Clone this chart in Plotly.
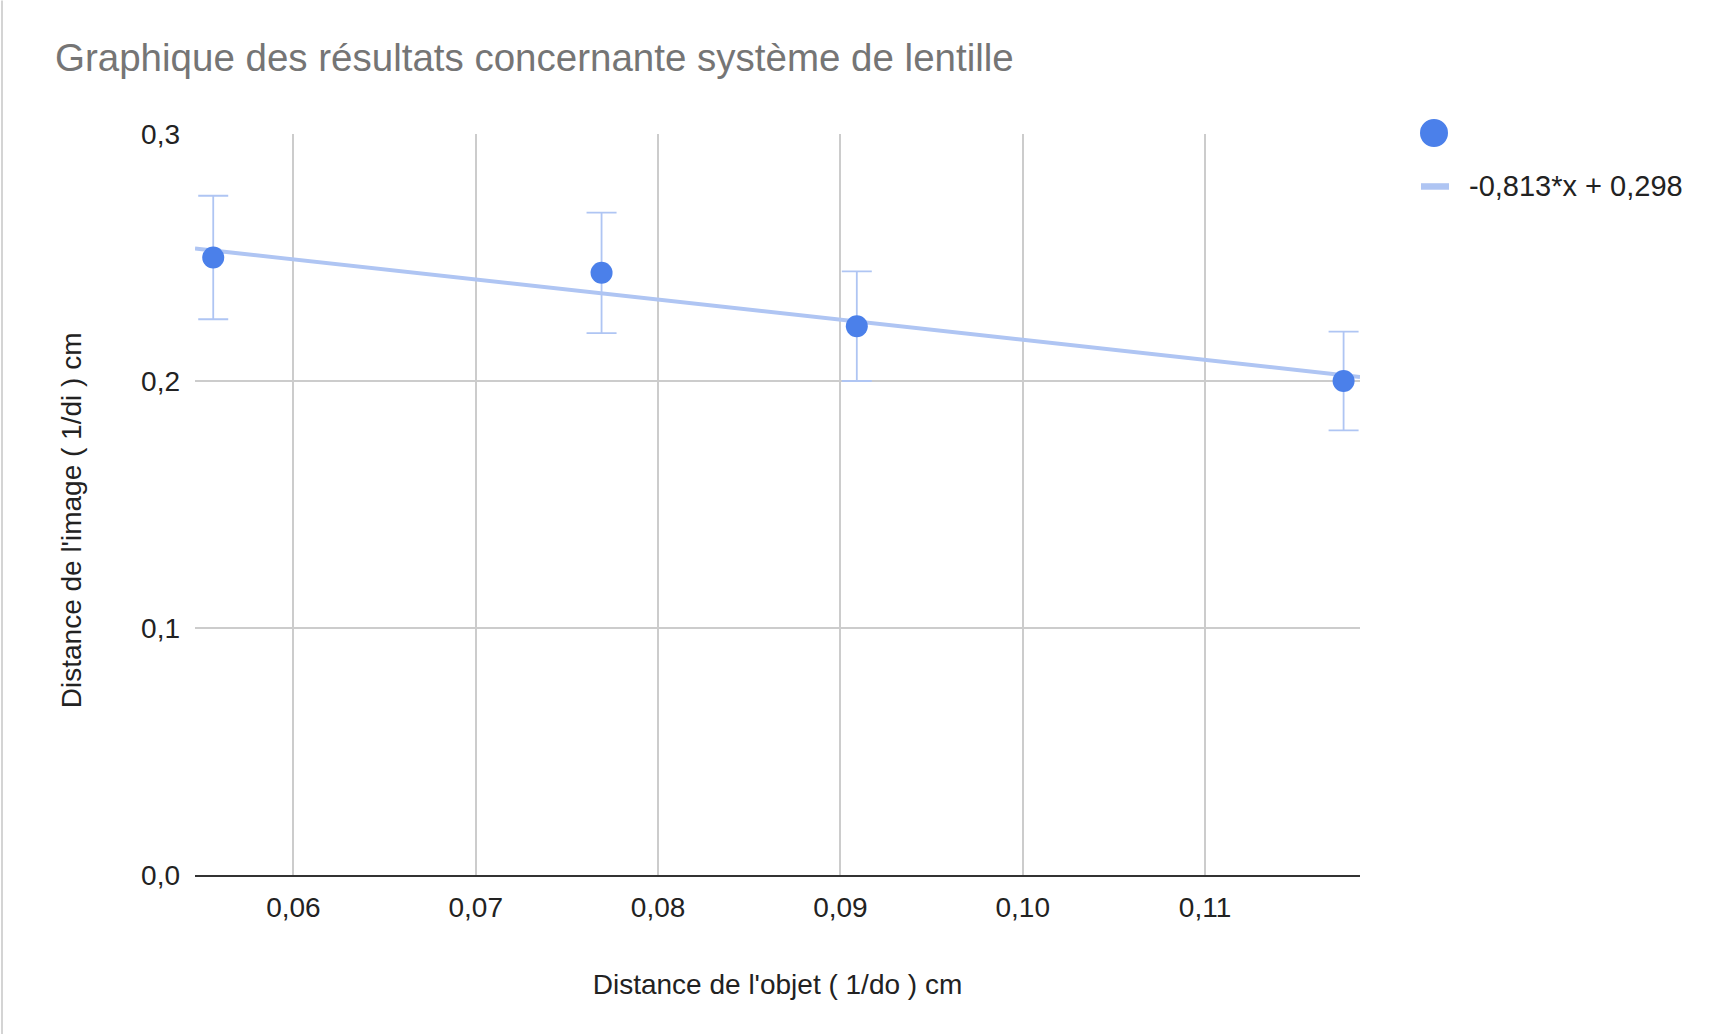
import plotly.graph_objects as go

# ---- data ----
x_obj = [0.0556, 0.0769, 0.0909, 0.1176]          # 1/do (cm)
y_img = [0.2500, 0.2438, 0.2222, 0.2000]          # 1/di (cm)
y_err = [0.0250, 0.0244, 0.0222, 0.0200]
trend_slope = [-0.813]
trend_intercept = [0.298]
trend_label = ["-0,813*x + 0,298"]
x_range = [0.0546, 0.1185]
y_range = [0.0, 0.3]
x_ticks = [0.06, 0.07, 0.08, 0.09, 0.10, 0.11]
y_ticks = [0.0, 0.1, 0.2, 0.3]

W, H = 1717, 1034
ML, MR, MT, MB = 195, 357, 133.5, 159
pw = W - ML - MR
ph = H - MT - MB


def px_x(p):
    return (p - ML) / pw


def px_y(p):
    return 1 - (p - MT) / ph


FONT = "Arial, 'Liberation Sans', Helvetica, sans-serif"
BLUE = "#4B80EA"
LIGHT = "#AFC5F3"

trend_x = x_range
trend_y = [trend_slope[0] * v + trend_intercept[0] for v in trend_x]

fig = go.Figure()

fig.add_trace(go.Scatter(
    x=trend_x, y=trend_y, mode="lines",
    name=trend_label[0], showlegend=False,
    line=dict(color=LIGHT, width=4),
))
fig.add_trace(go.Scatter(
    x=x_obj, y=y_img, mode="markers", name="", showlegend=False,
    marker=dict(color=BLUE, size=22),
    error_y=dict(type="data", array=y_err, visible=True, color=LIGHT,
                 thickness=1.8, width=15),
    cliponaxis=False,
))

# legend drawn as layout decorations
shapes = [
    dict(type="circle", xref="paper", yref="paper",
         x0=px_x(1420), x1=px_x(1448), y0=px_y(146.5), y1=px_y(118.5),
         fillcolor=BLUE, line=dict(width=0)),
    dict(type="line", xref="paper", yref="paper",
         x0=px_x(1421), x1=px_x(1449), y0=px_y(186), y1=px_y(186),
         line=dict(color=LIGHT, width=6.5)),
    dict(type="line", xref="paper", yref="paper",
         x0=px_x(2), x1=px_x(2), y0=px_y(H), y1=px_y(0),
         line=dict(color="#D4D4D4", width=2)),
]
annotations = [
    dict(text=trend_label[0], xref="paper", yref="paper",
         x=px_x(1467), y=px_y(186), xanchor="left", yanchor="middle",
         showarrow=False, font=dict(family=FONT, size=29, color="#222222")),
    dict(text="Distance de l'image ( 1/di ) cm", xref="paper", yref="paper",
         x=px_x(71), y=px_y(520), xanchor="center", yanchor="middle",
         textangle=-90, showarrow=False,
         font=dict(family=FONT, size=28, color="#222222")),
]

fig.update_layout(
    width=W, height=H,
    margin=dict(l=ML, r=MR, t=MT, b=MB, autoexpand=False),
    paper_bgcolor="white", plot_bgcolor="white",
    separators=", ",
    font=dict(family=FONT, size=28, color="#222222"),
    title=dict(text="Graphique des résultats concernante système de lentille",
               font=dict(family=FONT, size=38.5, color="#757575"),
               x=55 / W, xanchor="left", xref="container",
               y=1 - 58 / H, yanchor="middle", yref="container"),
    showlegend=False,
    xaxis=dict(range=x_range, tickvals=x_ticks, tickformat=".2f",
               showgrid=True, gridcolor="#CCCCCC", gridwidth=1.5,
               zeroline=False, showline=True, linecolor="#333333", linewidth=2,
               ticks="", ticklabelstandoff=6,
               title=dict(text="Distance de l'objet ( 1/do ) cm", standoff=53,
                          font=dict(family=FONT, size=28, color="#222222"))),
    yaxis=dict(range=y_range, tickvals=y_ticks, tickformat=".1f",
               showgrid=True, gridcolor="#CCCCCC", gridwidth=1.5,
               zeroline=False, showline=False, ticks="", ticklabelstandoff=14),
    shapes=shapes,
    annotations=annotations,
)

fig.write_html("out.html",
               config={"displayModeBar": False},
               post_script="document.body.style.margin='0';document.body.style.padding='0';")
